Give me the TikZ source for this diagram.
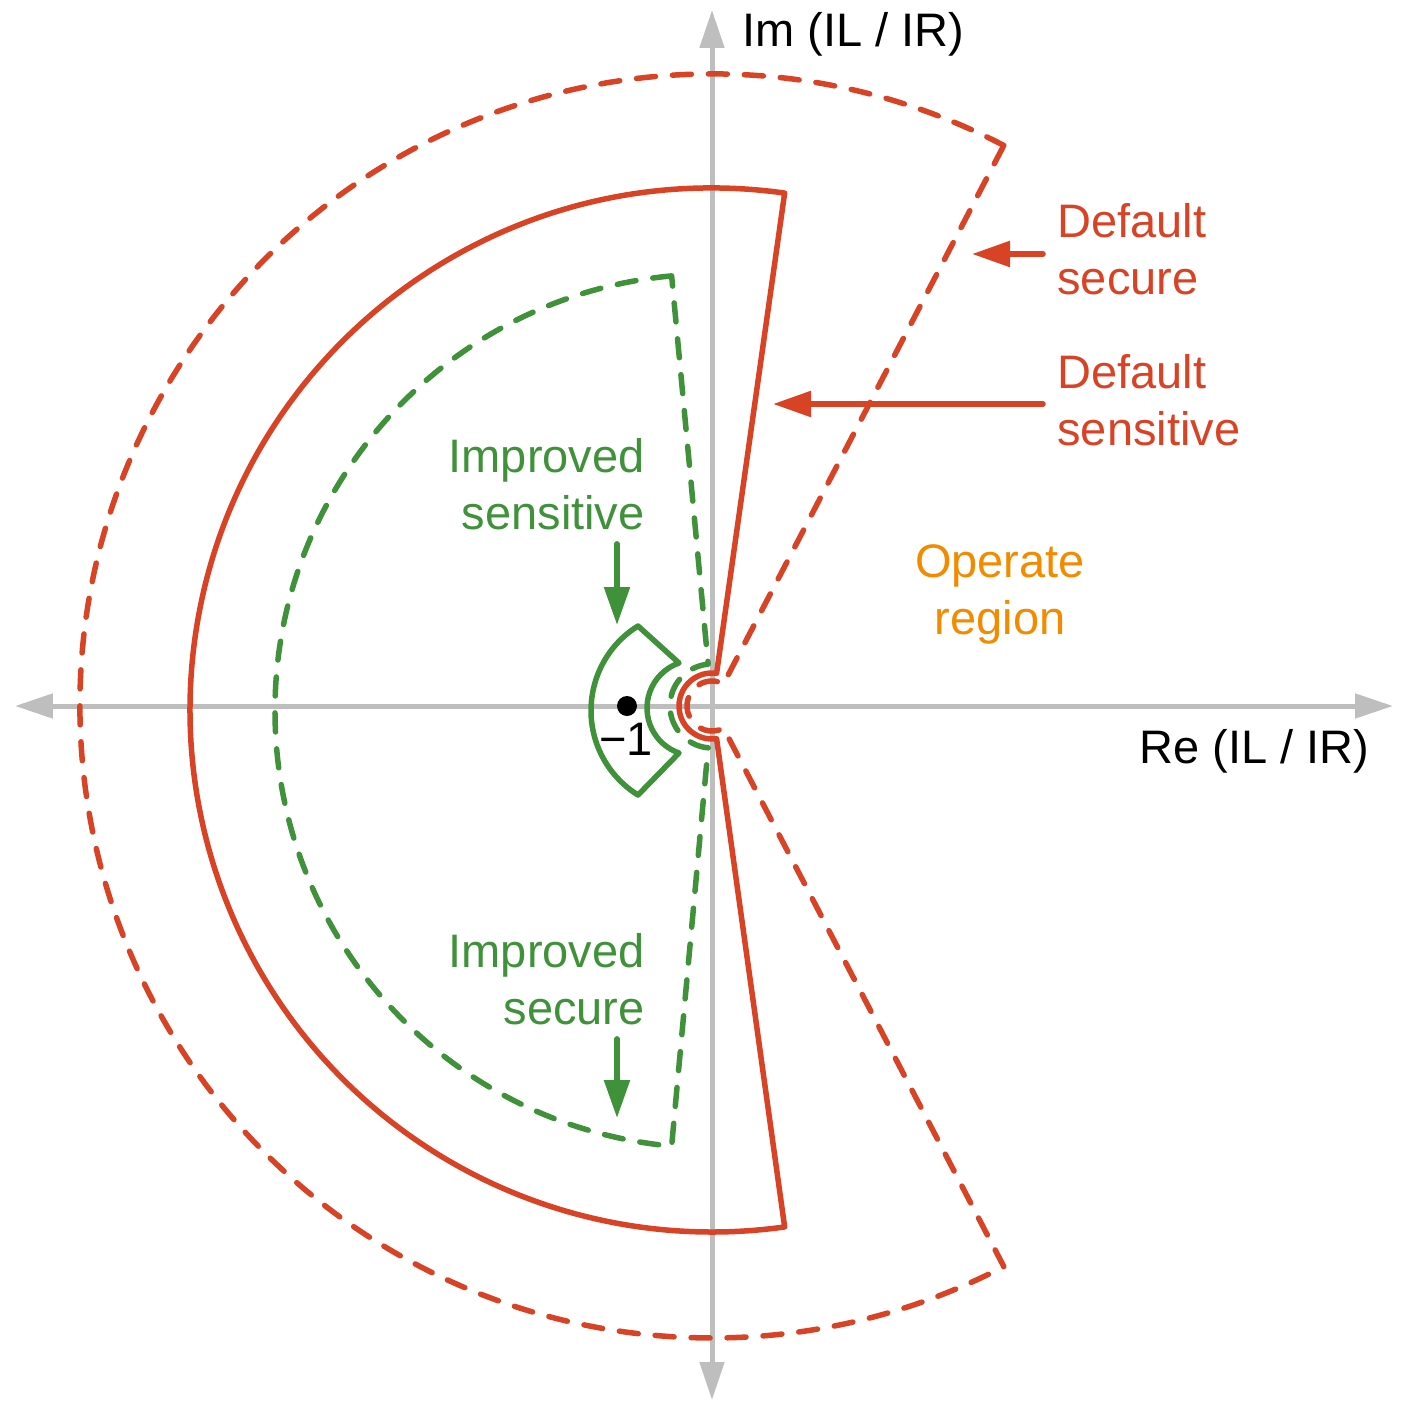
\documentclass[tikz,border=0pt]{standalone}
\usepackage{fontspec}
\setmainfont{Liberation Sans}
\usetikzlibrary{arrows.meta}
\definecolor{dflred}{RGB}{217,67,37}
\definecolor{impgreen}{RGB}{63,146,57}
\definecolor{oporange}{RGB}{243,139,0}
\definecolor{axisgray}{RGB}{190,190,190}
\begin{document}
\begin{tikzpicture}[x=0.5pt,y=0.5pt,
    axis/.style={draw=axisgray,line width=2.5pt,{Triangle[length=19pt,width=12pt]}-{Triangle[length=19pt,width=12pt]}},
    zone/.style={line width=2.75pt,line join=round},
    dashzone/.style={zone,line cap=round,dash pattern=on 9.5pt off 8.5pt},
    lbl/.style={font=\fontsize{23.5}{28.5}\selectfont,inner sep=7pt},
    callout/.style={line width=2.75pt,line cap=round,-{Triangle[length=19pt,width=12.5pt]}}]
  \useasboundingbox (-712,-697) rectangle (699,706);

  % axes
  \coordinate (O) at (0,0);
  \coordinate (xmin) at (-697,0);
  \coordinate (xmax) at (681,0);
  \coordinate (ymin) at (0,-694);
  \coordinate (ymax) at (0,696);
  \draw[axis] (xmin) -- (xmax);
  \draw[axis] (ymin) -- (ymax);
  \node[lbl,inner sep=0pt,anchor=base west] (imlbl) at (30,659) {Im (IL / IR)};
  \node[lbl,inner sep=0pt,anchor=base east] (relbl) at (658,-57) {Re (IL / IR)};

  % default secure
  \draw[dashzone,dflred] (62.5:632) arc[start angle=62.5,end angle=297.5,radius=632]
    -- (297.5:25) arc[start angle=297.5,end angle=62.5,radius=25] -- cycle;
  % default sensitive
  \draw[zone,dflred] ([shift={(0,-4)}]82:522) arc[start angle=82,end angle=278,radius=522]
    -- (278:33) arc[start angle=278,end angle=82,radius=33] -- cycle;
  % improved secure
  \draw[dashzone,impgreen] ([shift={(0,-5)}]95.3:437) arc[start angle=95.3,end angle=264.7,radius=437]
    -- (264.7:42) arc[start angle=264.7,end angle=95.3,radius=42] -- cycle;
  % improved sensitive
  \draw[zone,impgreen] (-74,80) arc[start angle=121.85,end angle=238.15,radius=99.5]
    -- (-33,-47) arc[start angle=250.8,end angle=109.2,radius=47.65] -- cycle;

  % the -1 point
  \node[circle,fill,inner sep=0pt,minimum size=10pt] (m1) at (-85,0) {};
  \node[lbl,inner sep=0pt,anchor=base] (m1lbl) at (-86,-49) {−1};

  % labels (base = last line)
  \node[lbl,dflred,align=left,anchor=base west] (dsec) at (331,411) {Default\\secure};
  \node[lbl,dflred,align=left,anchor=base west] (dsen) at (331,261) {Default\\sensitive};
  \node[lbl,impgreen,align=right,anchor=base east] (isen) at (-53,177) {Improved\\sensitive};
  \node[lbl,impgreen,align=right,anchor=base east] (isec) at (-53,-318) {Improved\\secure};
  \node[lbl,oporange,align=center,anchor=base] (oper) at (288,72) {Operate\\region};

  % pointers
  \coordinate (secTip) at (260,452);
  \coordinate (senTip) at (61,302);
  \coordinate (isenTip) at (-95,81);
  \coordinate (isecTip) at (-95,-412);
  \draw[callout,dflred] (secTip -| dsec.west) -- (secTip);
  \draw[callout,dflred] (senTip -| dsen.west) -- (senTip);
  \draw[callout,impgreen] (isenTip |- isen.south) -- (isenTip);
  \draw[callout,impgreen] (isecTip |- isec.south) -- (isecTip);
\end{tikzpicture}
\end{document}
